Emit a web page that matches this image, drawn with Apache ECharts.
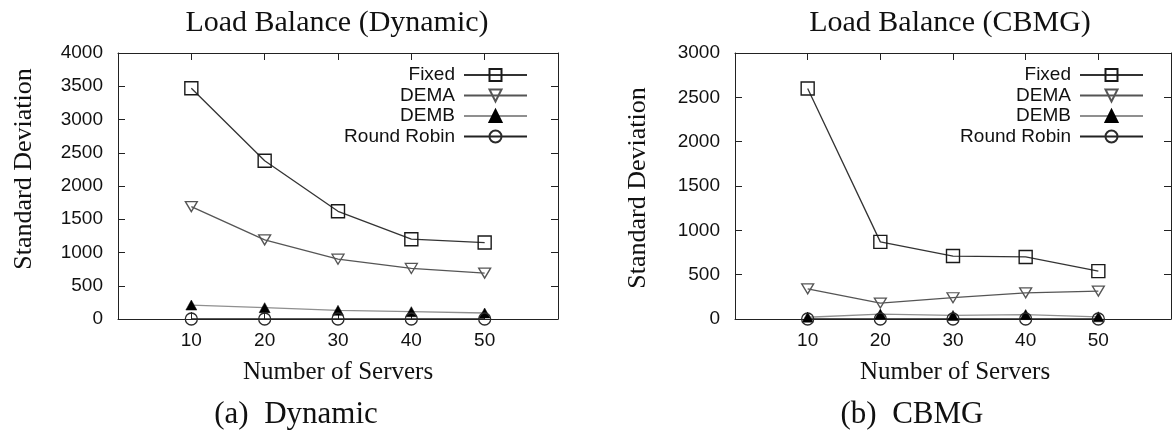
<!DOCTYPE html>
<html>
<head>
<meta charset="utf-8">
<script src="https://cdn.jsdelivr.net/npm/echarts@6/dist/echarts.min.js"></script>
<style>
  html, body { margin: 0; padding: 0; background: #fff; }
  #chart { width: 1174px; height: 430px; }
</style>
</head>
<body>
<div id="chart"></div>
<script>
// Number of servers (x positions) and the tick labels shown under them
const servers = [10, 20, 30, 40, 50];
const xTickLabels = ['10', '20', '30', '40', '50'];
const seriesNames = ['Fixed', 'DEMA', 'DEMB', 'Round Robin'];

// Standard deviation of load, dynamic workload
const dynamicFixed = [3470, 2380, 1620, 1200, 1150];
const dynamicDEMA  = [1690, 1190, 900, 760, 690];
const dynamicDEMB  = [210, 170, 130, 110, 90];
const dynamicRR    = [0, 0, 0, 0, 0];

// Standard deviation of load, CBMG workload
const cbmgFixed = [2600, 870, 710, 700, 540];
const cbmgDEMA  = [340, 180, 240, 295, 315];
const cbmgDEMB  = [20, 55, 40, 50, 25];
const cbmgRR    = [0, 0, 0, 0, 0];

// y-axis tick labels for each panel
const dynamicYTicks = [0, 500, 1000, 1500, 2000, 2500, 3000, 3500, 4000];
const cbmgYTicks    = [0, 500, 1000, 1500, 2000, 2500, 3000];

const SANS = 'Liberation Sans';
const SERIF = 'Liberation Serif';
const INK = '#111';

const styles = {
  'Fixed': {
    symbol: 'rect', symbolSize: 13, symbolRotate: 0,
    itemStyle: { color: 'rgba(255,255,255,0)', borderColor: '#1a1a1a', borderWidth: 1.4 },
    lineStyle: { color: '#333', width: 1.3 }
  },
  'DEMA': {
    symbol: 'triangle', symbolSize: [12, 10], symbolRotate: 180,
    itemStyle: { color: 'rgba(255,255,255,0)', borderColor: '#555', borderWidth: 1.3 },
    lineStyle: { color: '#555', width: 1.3 }
  },
  'DEMB': {
    symbol: 'triangle', symbolSize: [11, 10], symbolRotate: 0,
    itemStyle: { color: '#000', borderColor: '#000', borderWidth: 0.5 },
    lineStyle: { color: '#8f8f8f', width: 1.3 }
  },
  'Round Robin': {
    symbol: 'circle', symbolSize: 12, symbolRotate: 0,
    itemStyle: { color: 'rgba(255,255,255,0)', borderColor: '#2a2a2a', borderWidth: 1.3 },
    lineStyle: { color: '#222', width: 1.3 }
  }
};

function makeSeries(name, values, axisIndex) {
  const s = styles[name];
  return {
    type: 'line', name: name,
    xAxisIndex: axisIndex * 2, yAxisIndex: axisIndex * 2,
    data: servers.map((x, i) => [x, values[i]]),
    symbol: s.symbol, symbolSize: s.symbolSize, symbolRotate: s.symbolRotate,
    itemStyle: s.itemStyle, lineStyle: s.lineStyle,
    clip: false, z: 3,
    emphasis: { disabled: true }
  };
}

function xAxes(gridIndex) {
  const common = {
    type: 'value', gridIndex: gridIndex, min: 0, max: 60, interval: 10,
    splitLine: { show: false },
    axisLine: { show: true, onZero: false, lineStyle: { color: '#222', width: 1 } },
    axisTick: { show: true, inside: true, length: 7, lineStyle: { color: '#222' } }
  };
  return [
    Object.assign({}, common, {
      position: 'bottom',
      axisLabel: {
        margin: 12, color: INK, fontFamily: SANS, fontSize: 19,
        formatter: v => (xTickLabels.indexOf(String(v)) >= 0 ? String(v) : '')
      }
    }),
    Object.assign({}, common, { position: 'top', axisLabel: { show: false } })
  ];
}

function yAxes(gridIndex, ticks) {
  const common = {
    type: 'value', gridIndex: gridIndex, min: 0, max: ticks[ticks.length - 1], interval: ticks[1] - ticks[0],
    splitLine: { show: false },
    axisLine: { show: true, onZero: false, lineStyle: { color: '#222', width: 1 } },
    axisTick: { show: true, inside: true, length: 7, lineStyle: { color: '#222' } }
  };
  return [
    Object.assign({}, common, {
      position: 'left',
      axisLabel: {
        margin: 15, color: INK, fontFamily: SANS, fontSize: 19,
        formatter: v => (ticks.indexOf(v) >= 0 ? String(v) : '')
      }
    }),
    Object.assign({}, common, { position: 'right', axisLabel: { show: false } })
  ];
}

function legendFor(rightOffset) {
  return {
    orient: 'vertical', align: 'right',
    right: rightOffset, top: 60,
    itemWidth: 63, itemHeight: 15, itemGap: 0.5,
    selectedMode: false,
    data: seriesNames,
    textStyle: { color: INK, fontFamily: SANS, fontSize: 19, lineHeight: 20, padding: [0, 4, 0, 0] }
  };
}

function label(text, x, y, size, rotation) {
  return {
    type: 'text', x: x, y: y, rotation: rotation || 0,
    style: { text: text, fill: INK, font: size + 'px "' + SERIF + '"', align: 'center', verticalAlign: 'middle' }
  };
}

const chart = echarts.init(document.getElementById('chart'), null, { renderer: 'canvas' });

chart.setOption({
  animation: false,
  backgroundColor: '#fff',
  grid: [
    { left: 118, top: 53, width: 440, height: 266 },
    { left: 735, top: 53, width: 440, height: 266 }
  ],
  xAxis: xAxes(0).concat(xAxes(1)),
  yAxis: yAxes(0, dynamicYTicks).concat(yAxes(1, cbmgYTicks)),
  legend: [legendFor(641), legendFor(25)],
  series: [
    makeSeries('Fixed', dynamicFixed, 0),
    makeSeries('DEMA', dynamicDEMA, 0),
    makeSeries('DEMB', dynamicDEMB, 0),
    makeSeries('Round Robin', dynamicRR, 0),
    makeSeries('Fixed', cbmgFixed, 1),
    makeSeries('DEMA', cbmgDEMA, 1),
    makeSeries('DEMB', cbmgDEMB, 1),
    makeSeries('Round Robin', cbmgRR, 1)
  ],
  graphic: [
    label('Load Balance (Dynamic)', 337, 23, 30),
    label('Load Balance (CBMG)', 950, 23, 30),
    label('Number of Servers', 338, 372, 25),
    label('Number of Servers', 955, 372, 25),
    label('(a)  Dynamic', 296, 415, 31),
    label('(b)  CBMG', 912, 415, 31),
    label('Standard Deviation', 24, 169, 26, Math.PI / 2),
    label('Standard Deviation', 638, 188, 26, Math.PI / 2)
  ]
});
</script>
</body>
</html>
